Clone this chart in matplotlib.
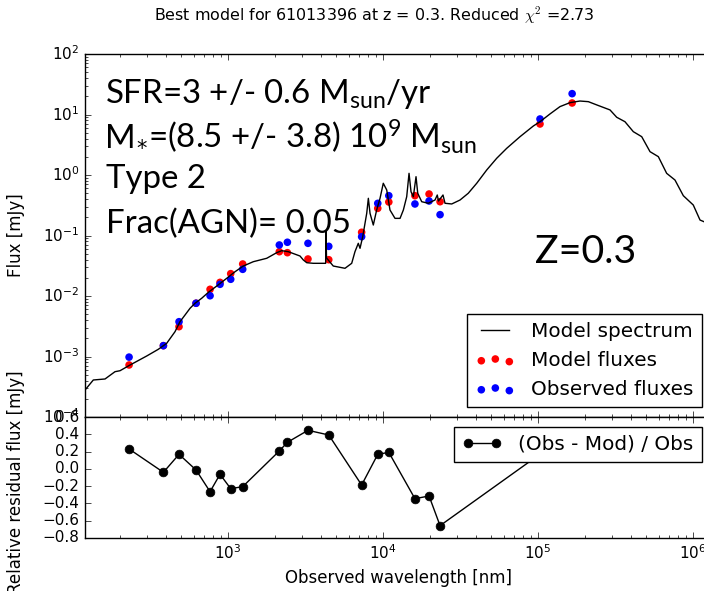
import numpy as np
import matplotlib
matplotlib.use('Agg')
import matplotlib.pyplot as plt

plt.style.use('classic')
plt.rcParams['figure.facecolor'] = 'white'
plt.rcParams['savefig.facecolor'] = 'white'
plt.rcParams['mathtext.fontset'] = 'cm'
plt.rcParams['mathtext.rm'] = 'Lato'
plt.rcParams['mathtext.it'] = 'Lato:italic'
plt.rcParams['mathtext.bf'] = 'Lato:bold'

# model spectrum (nm, mJy)
spec_wave = [119.5, 135.2, 160.9, 186.6, 201, 233.5, 299, 355, 402, 455, 490, 528,
             569, 612, 676, 747, 845, 981, 1110, 1255, 1456, 1777, 2061, 2221, 2449,
             2914, 3062, 3222, 3548, 4121, 4266, 4285, 4321, 4776, 5686, 6281, 6593,
             6927, 7106, 7396, 7852, 8043, 8245, 8657, 9100, 9567, 10040, 10570,
             11090, 11950, 12880, 13530, 14220, 14720, 15160, 15690, 16330, 16750,
             17770, 19590, 21650, 22390, 22800, 24380, 25120, 27750, 31400, 35480,
             40230, 46670, 54140, 62810, 76560, 93330, 103000, 119400, 138600,
             160800, 186500, 211200, 239300, 291400, 321900, 363900, 412000, 466700,
             528000, 597500, 676000, 765000, 865800, 1004000, 1110000, 1178000, 1326000]
spec_flux = [2.79e-4, 4.09e-4, 4.25e-4, 5.61e-4, 5.82e-4, 7.24e-4, 1.02e-3, 1.315e-3,
             1.65e-3, 2.57e-3, 3.76e-3, 4.85e-3, 6.27e-3, 7.57e-3, 9.16e-3, 1.15e-2,
             1.46e-2, 1.96e-2, 2.52e-2, 3.13e-2, 3.69e-2, 4.20e-2, 5.20e-2, 5.61e-2,
             5.40e-2, 4.58e-2, 3.94e-2, 3.55e-2, 3.47e-2, 3.47e-2, 3.47e-2, 0.119,
             4.25e-2, 3.13e-2, 2.87e-2, 3.47e-2, 5.40e-2, 7.43e-2, 6.14e-2, 9.55e-2,
             0.233, 0.412, 0.233, 0.149, 0.264, 0.412, 0.730, 0.565, 0.264, 0.192,
             0.192, 0.264, 0.438, 1.066, 0.530, 0.438, 0.938, 0.499, 0.362, 0.341,
             0.386, 0.467, 0.372, 0.467, 0.341, 0.332, 0.386, 0.499, 0.730, 1.21,
             1.89, 2.76, 4.30, 6.46, 7.60, 10.2, 13.5, 15.7, 16.7, 16.3, 14.4, 11.9,
             9.00, 7.60, 5.20, 4.30, 2.43, 2.01, 1.066, 0.826, 0.455, 0.319, 0.180,
             0.169, 0.133]

# photometric bands
band_wave = [230, 383, 483, 622, 766, 888, 1041, 1244, 2143, 2416, 3280, 4467,
             7280, 9250, 10900, 16070, 19820, 23340, 103000, 166000]
model_flux = [7.24e-4, 1.51e-3, 3.11e-3, 7.59e-3, 1.29e-2, 1.68e-2, 2.34e-2, 3.38e-2,
              5.40e-2, 5.20e-2, 4.09e-2, 3.98e-2, 0.113, 0.281, 0.358, 0.455, 0.485,
              0.362, 6.97, 15.5]
obs_flux = [9.77e-4, 1.51e-3, 3.76e-3, 7.59e-3, 1.01e-2, 1.56e-2, 1.89e-2, 2.76e-2,
            6.97e-2, 7.73e-2, 7.43e-2, 6.62e-2, 9.55e-2, 0.340, 0.455, 0.332, 0.372,
            0.221, 8.43, 22.1]
resid = [0.23, -0.04, 0.168, -0.013, -0.264, -0.063, -0.229, -0.206, 0.207, 0.307,
         0.446, 0.392, -0.187, 0.168, 0.191, -0.345, -0.314, -0.657, 0.17, 0.30]

W, H = 704., 591.
fig = plt.figure(figsize=(W / 100, H / 100), dpi=100)
ax1 = fig.add_axes([85 / W, 1 - 417 / H, 626.7 / W, 363 / H])
ax2 = fig.add_axes([85 / W, 1 - 538 / H, 626.7 / W, 121 / H], sharex=ax1)

ax1.plot(spec_wave, spec_flux, 'k-', lw=1.0, label='Model spectrum', zorder=3)
ax1.scatter(band_wave, model_flux, c='r', s=30, edgecolors='none', label='Model fluxes', zorder=2)
ax1.scatter(band_wave, obs_flux, c='b', s=30, edgecolors='none', label='Observed fluxes', zorder=2)
ax1.set_xscale('log')
ax1.set_yscale('log')
ax1.set_xlim(119.5, 1.32e6)
ax1.set_ylim(1e-4, 1e2)
ax1.set_ylabel('Flux [mJy]', fontsize=12)
ax1.tick_params(labelbottom=False, labelsize=11)
ax1.legend(loc='lower right', scatterpoints=3, numpoints=2, fontsize=14.4)

ax2.plot(band_wave, resid, 'ko-', lw=1.0, ms=6.3, label='(Obs - Mod) / Obs')
ax2.set_ylim(-0.8, 0.6)
ax2.set_yticks(np.arange(-0.8, 0.61, 0.2))
ax2.set_xlabel('Observed wavelength [nm]', fontsize=12)
ax2.set_ylabel('Relative residual flux [mJy]', fontsize=12)
ax2.tick_params(labelsize=11)
ax2.legend(loc='upper right', numpoints=2, fontsize=14.4)

ax1.yaxis.set_label_coords(-60 / 626.7, 0.5)
ax2.yaxis.set_label_coords(-60 / 626.7, 0.46)

fig.text(374 / W, 1 - 15 / H, r'Best model for 61013396 at z = 0.3. Reduced $\chi^2$ =2.73',
         ha='center', va='center', fontsize=11.4)

fs = 23.8
big = dict(family='Lato', math_fontfamily='custom', va='baseline', fontsize=fs)
fig.text(105 / W, 1 - 103.3 / H, r'SFR=3 +/- 0.6 M$_{\mathrm{sun}}$/yr', **big)

# M_* line built from pieces so the asterisk sits low next to the M
r = fig.canvas.get_renderer()
y_m = 1 - 148.3 / H
t1 = fig.text(105 / W, y_m, 'M', family='Lato', va='baseline', fontsize=fs)
x1 = t1.get_window_extent(r).x1
t2 = fig.text((x1 + 1) / W, y_m, '\u204e', family=['DejaVu Sans'], va='baseline', fontsize=15)
x2 = t2.get_window_extent(r).x1
fig.text((x2 + 1) / W, y_m, r'=(8.5 +/- 3.8) 10$^9$ M$_{\mathrm{sun}}$', **big)

fig.text(106 / W, 1 - 188.3 / H, 'Type 2', **big)
fig.text(106 / W, 1 - 233.3 / H, 'Frac(AGN)= 0.05', **big)
fig.text(535 / W, 1 - 263.3 / H, 'Z=0.3', family='Lato', va='baseline', fontsize=28.4)

fig.savefig('out.png', dpi=100)
